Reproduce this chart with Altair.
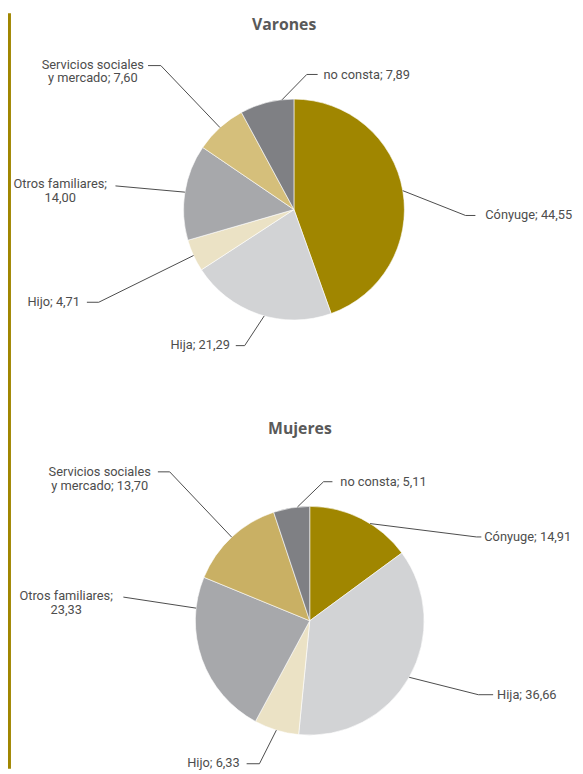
import math
import altair as alt
import pandas as pd

# ---------------- data ----------------
categories = ["Cónyuge", "Hija", "Hijo", "Otros familiares",
              "Servicios sociales y mercado", "no consta"]
label_names = ["Cónyuge; ", "Hija; ", "Hijo; ", "Otros familiares;\n",
               "Servicios sociales\ny mercado; ", "no consta; "]
varones = [44.55, 21.29, 4.71, 14.00, 7.60, 7.89]
mujeres = [14.91, 36.66, 6.33, 23.33, 13.70, 5.11]
pie_titles = ["Varones", "Mujeres"]

# ---------------- styles / layout ----------------
colors_v = ["#a08600", "#d2d3d5", "#ebe2c5", "#a7a8ab", "#d5bf7b", "#7f8084"]
colors_m = ["#a08600", "#d2d3d5", "#ebe2c5", "#a7a8ab", "#c9b064", "#7f8084"]
OFF = 8  # page margin
W, H = 575, 766
pies = [
    dict(cx=298, cy=207, r=112, tx=288, ty=20),
    dict(cx=314, cy=624, r=116, tx=304, ty=430),
]
# per label: angle offset (deg), elbow, end of leader, text anchor, align (page coords)
label_layout = [
    [
        (0, (472, 213), (482, 213), (492, 213), "left"),
        (-3, (248, 345), (239, 345), (233, 344), "right"),
        (0, (100, 301), (88, 301), (81, 301), "right"),
        (0, (117, 183), (117, 183), (61, 181), "center"),
        (0, (163, 61), (150, 61), (94, 60), "center"),
        (8, (311, 70), (322, 70), (328, 71), "left"),
    ],
    [
        (5, (483, 539), (488, 539), (491, 539), "left"),
        (0, (485, 699), (500, 699), (504, 699), "left"),
        (0, (263, 769), (250, 769), (243, 768), "right"),
        (26, (125, 600), (125, 600), (67, 599), "center"),
        (0, (172, 473), (160, 473), (101, 473), "center"),
        (3, (328, 483), (337, 483), (345, 483), "left"),
    ],
]

slice_rows, line_rows, text_rows, title_rows = [], [], [], []
for pi, (vals, cols) in enumerate([(varones, colors_v), (mujeres, colors_m)]):
    p = pies[pi]
    total = sum(vals)
    cum = 0.0
    title_rows.append(dict(x=p["tx"] - OFF, y=p["ty"] - OFF, text=pie_titles[pi]))
    for i, (cat, v) in enumerate(zip(categories, vals)):
        t1 = cum / total * 2 * math.pi
        cum += v
        t2 = cum / total * 2 * math.pi
        slice_rows.append(dict(pie=pi, cat=cat, t1=t1, t2=t2, color=cols[i],
                               cx=p["cx"] - OFF, cy=p["cy"] - OFF, r=p["r"]))
        off, elbow, end, tpos, align = label_layout[pi][i]
        a = (t1 + t2) / 2 + math.radians(off)
        sx = p["cx"] + p["r"] * math.sin(a)
        sy = p["cy"] - p["r"] * math.cos(a)
        lid = f"{pi}-{i}"
        for seq, (x, y) in enumerate([(sx, sy), elbow, end]):
            line_rows.append(dict(lid=lid, seq=seq, x=x - OFF, y=y - OFF))
        txt = label_names[i] + f"{v:.2f}".replace(".", ",")
        text_rows.append(dict(x=tpos[0] - OFF, y=tpos[1] - OFF, text=txt, align=align))

slices = pd.DataFrame(slice_rows)
lines = pd.DataFrame(line_rows)
texts = pd.DataFrame(text_rows)
titles = pd.DataFrame(title_rows)

X = lambda f: alt.X(f, scale=None, axis=None)
Y = lambda f: alt.Y(f, scale=None, axis=None)

arcs = alt.Chart(slices).mark_arc(stroke="white", strokeWidth=0.6).encode(
    x=X("cx:Q"), y=Y("cy:Q"),
    theta=alt.Theta("t1:Q", scale=None, stack=None), theta2="t2:Q",
    radius=alt.Radius("r:Q", scale=None),
    color=alt.Color("color:N", scale=None),
)

leaders = alt.Chart(lines).mark_line(color="#4a4a4a", strokeWidth=1).encode(
    x=X("x:Q"), y=Y("y:Q"), detail="lid:N", order="seq:Q"
)

text_layers = []
for al in ["left", "right", "center"]:
    text_layers.append(
        alt.Chart(texts[texts["align"] == al]).mark_text(
            align=al, baseline="middle", font="Roboto", fontSize=13,
            color="#4d4d4d", lineBreak="\n", lineHeight=14,
        ).encode(x=X("x:Q"), y=Y("y:Q"), text="text:N")
    )

title_layer = alt.Chart(titles).mark_text(
    align="center", baseline="middle", font="Open Sans", fontSize=16,
    fontWeight="bold", color="#595959",
).encode(x=X("x:Q"), y=Y("y:Q"), text="text:N")

gold = alt.Chart(pd.DataFrame({"a": [0]})).mark_rule(
    color="#a08600", strokeWidth=3
).encode(x=alt.value(1.5), y=alt.value(0), y2=alt.value(H))

chart = alt.layer(gold, arcs, leaders, *text_layers, title_layer).properties(
    width=W, height=H, padding=0,
    autosize=alt.AutoSizeParams(type="none"),
).configure_view(stroke=None)

chart.save("out.html", embed_options={"renderer": "svg", "actions": False})
